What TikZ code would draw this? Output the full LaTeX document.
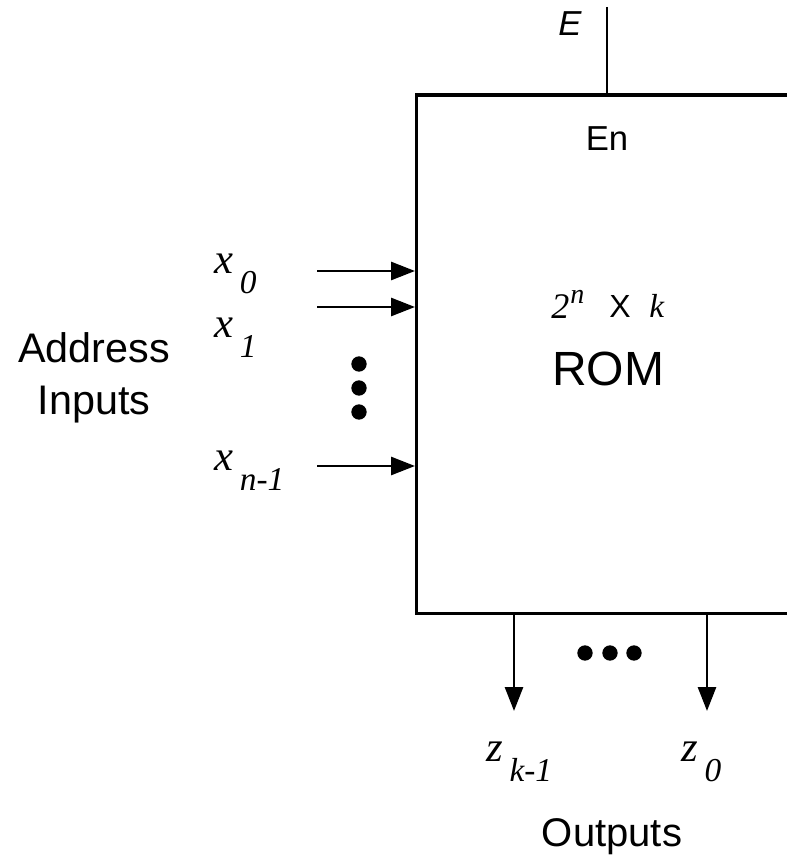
\documentclass[tikz,border=0pt]{standalone}
\usepackage{fontspec}
\setmainfont{Liberation Sans}
\newfontfamily\tms{Liberation Serif}
\usetikzlibrary{arrows.meta}
\newcommand{\fsz}[1]{\fontsize{#1}{#1}\selectfont}
\newcommand{\sublab}[2]{{\tms\itshape\fsz{32}#1}\hspace{5pt}\raisebox{-15pt}{\tms\itshape\fsz{25}#2}}
\begin{document}
\begin{tikzpicture}[x=0.75pt,y=-0.75pt,
  wire/.style={line width=2.1pt},
  arr/.style={wire,-{Triangle[length=18pt,width=13.5pt]}},
  dot/.style={circle,fill=black,inner sep=0pt,minimum size=11.5pt},
  lab/.style={inner sep=0pt,anchor=base west},
  sans/.style={inner sep=0pt}]
\useasboundingbox (0,0) rectangle (787,859);
\clip (0,0) rectangle (787,859);
% ROM box (right side runs past the picture edge)
\node[draw,line width=2.3pt,minimum width=450*0.75pt,minimum height=518*0.75pt,inner sep=0pt,anchor=north west] (rom) at (415,93.5) {};
% enable
\coordinate (etop) at (607,7);
\draw[wire] (etop) -- (etop |- rom.north);
\node[sans,font=\fsz{26}\itshape] (elab) at (570,24) {E};
\node[sans,font=\fsz{26}] (en) at (607,139) {En};
% size and name
\node[lab,font=\tms\itshape\fsz{27}] (two) at (551,318) {2};
\node[lab,font=\tms\itshape\fsz{21}] (nexp) at (570,303) {n};
\node[lab,font=\fsz{24}] (times) at (609,317) {X};
\node[lab,font=\tms\itshape\fsz{25}] (kk) at (649,317) {k};
\node[sans,font=\fsz{36}] (name) at (608,369) {ROM};
% address inputs
\coordinate (a0) at (317,271);
\coordinate (a1) at (317,307);
\coordinate (an) at (317,466);
\draw[arr] (a0) -- (a0 -| rom.west);
\draw[arr] (a1) -- (a1 -| rom.west);
\draw[arr] (an) -- (an -| rom.west);
\node[lab] (x0) at (214,273) {\sublab{x}{0}};
\node[lab] (x1) at (214,337) {\sublab{x}{1}};
\node[lab] (xn) at (214,470) {\sublab{x}{n-1}};
\node[dot] (d1) at (359,364) {};
\node[dot] (d2) at (359,388) {};
\node[dot] (d3) at (359,412) {};
\node[inner sep=0pt,anchor=base,align=center,font=\fsz{31}] (addr) at (94,414) {Address\\[8pt]Inputs};
% outputs
\coordinate (zk) at (514,711);
\coordinate (z0) at (707,711);
\draw[arr] (zk |- rom.south) -- (zk);
\draw[arr] (z0 |- rom.south) -- (z0);
\node[dot] (h1) at (585,653) {};
\node[dot] (h2) at (610,653) {};
\node[dot] (h3) at (634,653) {};
\node[lab] (zkl) at (486,761) {\sublab{z}{k-1}};
\node[lab] (z0l) at (681,761) {\sublab{z}{0}};
\node[inner sep=0pt,anchor=base,font=\fsz{30}] (outs) at (612,846) {Outputs};
\end{tikzpicture}
\end{document}
